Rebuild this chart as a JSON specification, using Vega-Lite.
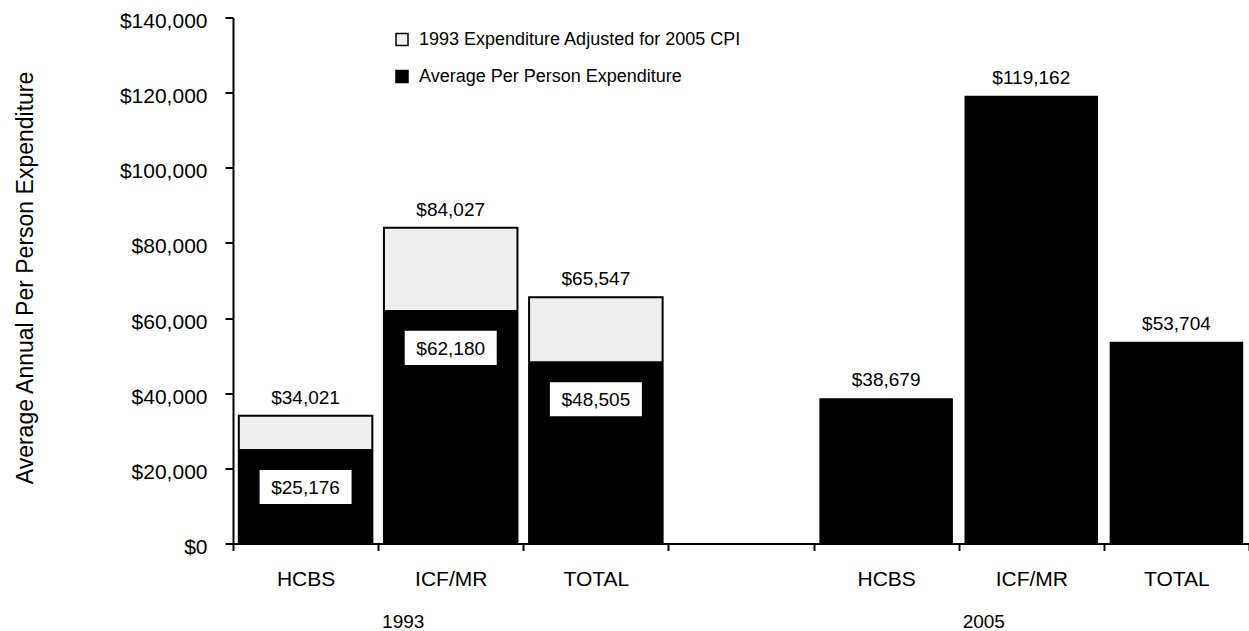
{
  "$schema": "https://vega.github.io/schema/vega-lite/v6.json",
  "width": 1016,
  "height": 526,
  "autosize": {"type": "none"},
  "padding": {"left": 233, "top": 17.5, "right": 0, "bottom": 87.5},
  "config": {
    "font": "Liberation Sans",
    "view": {"stroke": null},
    "axis": {"grid": false}
  },
  "data": {
    "values": [
      {"slot": "HCBS 1993", "year": "1993", "series": "1993 Expenditure Adjusted for 2005 CPI", "value": 34021},
      {"slot": "ICF/MR 1993", "year": "1993", "series": "1993 Expenditure Adjusted for 2005 CPI", "value": 84027},
      {"slot": "TOTAL 1993", "year": "1993", "series": "1993 Expenditure Adjusted for 2005 CPI", "value": 65547},
      {"slot": "HCBS 1993", "year": "1993", "series": "Average Per Person Expenditure", "value": 25176},
      {"slot": "ICF/MR 1993", "year": "1993", "series": "Average Per Person Expenditure", "value": 62180},
      {"slot": "TOTAL 1993", "year": "1993", "series": "Average Per Person Expenditure", "value": 48505},
      {"slot": "HCBS 2005", "year": "2005", "series": "Average Per Person Expenditure", "value": 38679},
      {"slot": "ICF/MR 2005", "year": "2005", "series": "Average Per Person Expenditure", "value": 119162},
      {"slot": "TOTAL 2005", "year": "2005", "series": "Average Per Person Expenditure", "value": 53704}
    ]
  },
  "layer": [
    {
      "encoding": {
        "x": {
          "field": "slot",
          "type": "nominal",
          "scale": {
            "domain": ["HCBS 1993", "ICF/MR 1993", "TOTAL 1993", "gap", "HCBS 2005", "ICF/MR 2005", "TOTAL 2005"],
            "paddingInner": 0,
            "paddingOuter": 0
          },
          "axis": {
            "title": null,
            "labelExpr": "(!isString(datum.value) || datum.value == 'gap') ? '' : split(datum.value, ' ')[0]",
            "labelAngle": 0,
            "labelFontSize": 21,
            "labelColor": "#000",
            "labelPadding": 18,
            "labelBaseline": "top",
            "labelOverlap": false,
            "tickBand": "extent",
            "tickSize": 7,
            "tickWidth": 2,
            "tickColor": "#000",
            "domainColor": "#000",
            "domainWidth": 2
          }
        },
        "y": {
          "field": "value",
          "type": "quantitative",
          "scale": {"domain": [0, 140000], "nice": false},
          "axis": {
            "title": "Average Annual Per Person Expenditure",
            "values": [0, 20000, 40000, 60000, 80000, 100000, 120000, 140000],
            "format": "$,d",
            "labelFontSize": 21,
            "labelColor": "#000",
            "labelPadding": 18,
            "labelOffset": 4,
            "tickSize": 8,
            "tickWidth": 2,
            "tickColor": "#000",
            "domainColor": "#000",
            "domainWidth": 2,
            "titleFontSize": 23,
            "titleFontWeight": "normal",
            "titleColor": "#000",
            "titleAngle": 270,
            "titleAlign": "center",
            "titleBaseline": "alphabetic",
            "titleX": -201,
            "titleY": 260
          }
        }
      },
      "layer": [
        {
          "transform": [{"filter": "datum.series == '1993 Expenditure Adjusted for 2005 CPI'"}],
          "mark": {"type": "bar", "width": {"band": 0.92}, "stroke": "#000", "strokeWidth": 2},
          "encoding": {
            "color": {
              "field": "series",
              "type": "nominal",
              "scale": {
                "domain": ["1993 Expenditure Adjusted for 2005 CPI", "Average Per Person Expenditure"],
                "range": ["#EEEEEE", "#000000"]
              },
              "legend": {
                "title": null,
                "orient": "none",
                "legendX": 160,
                "legendY": 13,
                "padding": 0,
                "symbolType": "square",
                "symbolSize": 144,
                "symbolStrokeColor": "#000",
                "symbolStrokeWidth": 1.5,
                "labelFontSize": 18,
                "labelColor": "#000",
                "labelOffset": 8,
                "rowPadding": 19,
                "labelLimit": 600
              }
            }
          }
        },
        {
          "transform": [{"filter": "datum.series == 'Average Per Person Expenditure'"}],
          "mark": {"type": "bar", "width": {"band": 0.92}},
          "encoding": {
            "color": {"field": "series", "type": "nominal"}
          }
        },
        {
          "transform": [{"filter": "datum.series != 'Average Per Person Expenditure' || datum.year == '2005'"}],
          "mark": {"type": "text", "fontSize": 19, "baseline": "alphabetic", "dy": -12, "color": "#000"},
          "encoding": {
            "text": {"field": "value", "type": "quantitative", "format": "$,d"}
          }
        },
        {
          "transform": [{"filter": "datum.series == 'Average Per Person Expenditure' && datum.year == '1993'"}],
          "mark": {"type": "point", "shape": "M-1,-0.37H1V0.37H-1Z", "size": 8464, "filled": true, "fill": "#FFFFFF", "opacity": 1, "strokeWidth": 0, "yOffset": 38}
        },
        {
          "transform": [{"filter": "datum.series == 'Average Per Person Expenditure' && datum.year == '1993'"}],
          "mark": {"type": "text", "fontSize": 19, "baseline": "middle", "yOffset": 38, "dy": 1, "color": "#000"},
          "encoding": {
            "text": {"field": "value", "type": "quantitative", "format": "$,d"}
          }
        }
      ]
    },
    {
      "mark": {"type": "point", "opacity": 0},
      "encoding": {
        "x": {
          "field": "slot",
          "type": "nominal",
          "scale": {
            "domain": ["HCBS 1993", "ICF/MR 1993", "TOTAL 1993", "gap", "HCBS 2005", "ICF/MR 2005", "TOTAL 2005"],
            "paddingInner": 0,
            "paddingOuter": 0
          },
          "axis": {
            "orient": "bottom",
            "title": null,
            "domain": false,
            "ticks": false,
            "tickSize": 0,
            "labelExpr": "datum.value == 'ICF/MR 1993' ? '1993' : datum.value == 'ICF/MR 2005' ? '2005' : ''",
            "labelOffset": -48,
            "labelPadding": 68.7,
            "labelFontSize": 19,
            "labelAngle": 0,
            "labelColor": "#000",
            "labelBaseline": "top",
            "labelOverlap": false
          }
        }
      }
    }
  ],
  "resolve": {"scale": {"x": "independent"}, "axis": {"x": "independent"}}
}
